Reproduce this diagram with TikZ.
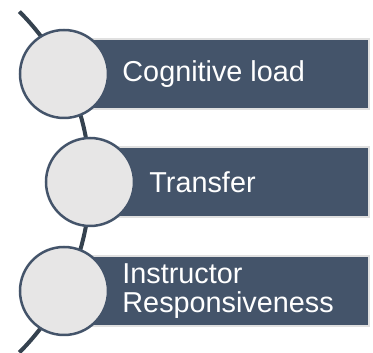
\documentclass[tikz,border=0pt]{standalone}
\usepackage{fontspec}
\setmainfont{Liberation Sans}
\usetikzlibrary{positioning}
\definecolor{slate}{HTML}{44546A}
\definecolor{spinecol}{HTML}{35424F}
\definecolor{discfill}{HTML}{E7E6E6}
\tikzstyle{bar}   = [rectangle, fill=slate, draw=black!12, line width=1.5pt,
                     minimum height=70pt, inner sep=0pt]
\tikzstyle{disc}  = [circle, draw=slate, fill=discfill, line width=2.5pt,
                     minimum size=88pt, inner sep=0pt]
\tikzstyle{lbl}   = [text=white, font=\fontsize{28.8}{29.8}\selectfont,
                     align=left, inner sep=0pt, anchor=west]
\tikzstyle{spine} = [draw=spinecol, line width=4pt]

\begin{document}
\begin{tikzpicture}[x=1pt, y=1pt]
		\useasboundingbox (0,0) rectangle (373,353);
		% centres of the three discs, all on the spine
		\coordinate (pA) at (64,279);
		\coordinate (pB) at (90,171);
		\coordinate (pC) at (64,62);
		\coordinate (top) at (19.4,341.4);

		\draw[spine] (top) arc[start angle=45, end angle=-45, radius=241];

		\node[bar, anchor=west, minimum width=304] (barA) at (pA) {};
		\node[bar, anchor=west, minimum width=278] (barB) at (pB) {};
		\node[bar, anchor=west, minimum width=304] (barC) at (pC) {};

		\node[disc] (A) at (pA) {};
		\node[disc] (B) at (pB) {};
		\node[disc] (C) at (pC) {};

		\node[lbl, right=13pt of A] (cog) {Cognitive load};
		\node[lbl, right=14pt of B] (trans) {Transfer};
		\node[lbl, right=13pt of C] (resp) {Instructor\\Responsiveness};
	\end{tikzpicture}
\end{document}
